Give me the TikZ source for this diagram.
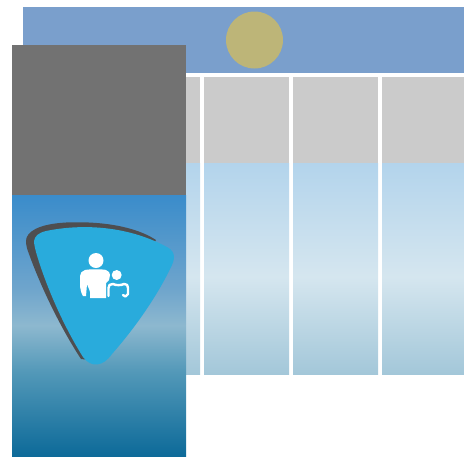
\documentclass[tikz,border=0pt]{standalone}
\usepackage{tikz}
\definecolor{headblue}{HTML}{7A9FCC}
\definecolor{sunyellow}{HTML}{BDB578}
\definecolor{cellgray}{HTML}{CBCBCB}
\definecolor{panelgray}{HTML}{727272}
\definecolor{shieldblue}{HTML}{29ABDC}
\definecolor{shielddark}{HTML}{4E4E50}
\definecolor{coltop}{HTML}{B3D4EC}
\definecolor{colmid}{HTML}{D5E6EF}
\definecolor{colbot}{HTML}{A3C7D9}
\definecolor{pantop}{HTML}{3A8CCB}
\definecolor{panup}{HTML}{6FA5CC}
\definecolor{panmid}{HTML}{8DB8CF}
\definecolor{panlow}{HTML}{5298B8}
\definecolor{panbot}{HTML}{0D6A99}
\pgfdeclareverticalshading{colshade}{100bp}{
  color(0bp)=(colbot); color(25bp)=(colbot); color(48bp)=(colmid);
  color(75bp)=(coltop); color(100bp)=(coltop)}
\pgfdeclareverticalshading{panelshade}{100bp}{
  color(0bp)=(panbot); color(25bp)=(panbot); color(41bp)=(panlow); color(50bp)=(panmid);
  color(57bp)=(panup); color(75bp)=(pantop); color(100bp)=(pantop)}
\tikzset{
  cell/.style={fill=cellgray, draw=none},
  column/.style={shading=colshade, draw=none},
  icon/.style={fill=white, draw=none}
}
\begin{document}
\begin{tikzpicture}[line cap=round,line join=round,x=1pt,y=-1pt]
      \useasboundingbox (0,0) rectangle (464,456);

      % header
      \fill[headblue] (23,7) rectangle (464,73);
      \fill[sunyellow] (254.5,40) circle (28.5);

      % columns
      \foreach \xa/\xb in {180/200, 204/289, 293/378, 382/464} {
        \path[cell] (\xa,77) rectangle (\xb,163);
        \path[column] (\xa,163) rectangle (\xb,374);
      }

      % left panel
      \fill[panelgray] (12,45) rectangle (186,195);
      \path[shading=panelshade] (12,195) rectangle (186,456);

      % shield
      \fill[shielddark] (26,241) .. controls (26,232) and (38,224) .. (66,222.5)
        .. controls (100,221) and (135,226) .. (156,240) -- (90,360) -- (81,359)
        .. controls (62,330) and (42,290) .. (29,254) .. controls (27,249) and (26,245) .. (26,241) -- cycle;
      \fill[shieldblue] (34,241) .. controls (35,236) and (38,233) .. (46,231)
        .. controls (80,224) and (125,225) .. (165,246)
        .. controls (174,250) and (176,256) .. (172,265)
        .. controls (158,295) and (135,328) .. (112,354)
        .. controls (103,367) and (91,368) .. (83,357)
        .. controls (66,330) and (47,290) .. (36,252)
        .. controls (35,248) and (34,244) .. (34,241) -- cycle;

      % adult
      \fill[icon] (96,260.5) circle (7.5);
      \fill[icon] (85,270) .. controls (90,269) and (102,269) .. (106,270)
        .. controls (109,271) and (110,273) .. (110,275) -- (109,280) -- (106,283) -- (106,298)
        -- (90,298) -- (90,292) .. controls (89,288) and (87,285) .. (87,284)
        -- (86,296) -- (83,296) .. controls (81,293) and (80,288) .. (80,284) -- (80,276)
        .. controls (80,273) and (82,271) .. (85,270) -- cycle;

      % child
      \fill[icon] (116.7,275) circle (5);
      \draw[white, line width=2.4pt] (108.5,296) -- (108.5,288) .. controls (108.5,285) and (110,284) .. (113,284)
        .. controls (116,285.5) and (121,285.5) .. (124,284)
        .. controls (127,284) and (128,285) .. (128,288) -- (128,294) -- (125.5,296.5) -- (123,295);
\end{tikzpicture}
\end{document}
